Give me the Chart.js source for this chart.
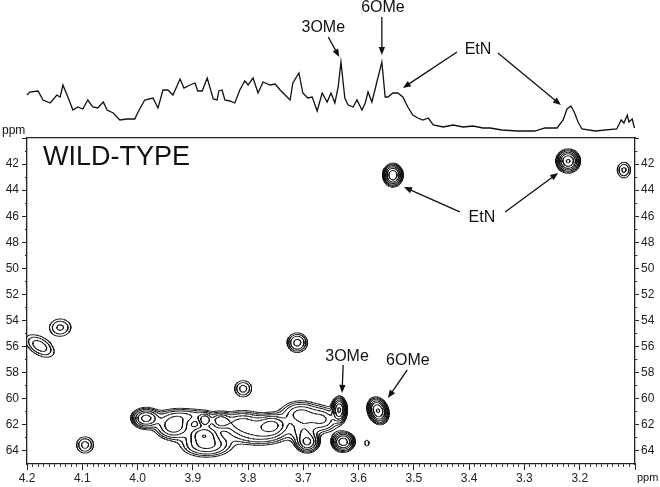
<!DOCTYPE html>
<html>
<head>
<meta charset="utf-8">
<script src="https://cdn.jsdelivr.net/npm/chart.js@4.4.1/dist/chart.umd.min.js"></script>
<style>
  html, body { margin: 0; padding: 0; background: #fff; }
  #wrap { position: relative; width: 660px; height: 487px; }
  #wrap canvas { position: absolute; left: 0; top: 0; }
</style>
</head>
<body>
<div id="wrap">
  <canvas id="hsqc" width="660" height="487" style="width:660px;height:487px"></canvas>
  <canvas id="proton" width="660" height="137" style="width:660px;height:137px"></canvas>
</div>
<script>
// 1H projection (ppm, intensity)
const traceShift = [4.200, 4.195, 4.180, 4.171, 4.158, 4.146, 4.140, 4.135, 4.126, 4.117, 4.108, 4.099, 4.090, 4.081, 4.072, 4.062, 4.055, 4.044, 4.032, 4.019, 4.005, 3.999, 3.987, 3.972, 3.963, 3.954, 3.945, 3.936, 3.923, 3.916, 3.905, 3.896, 3.891, 3.883, 3.874, 3.863, 3.856, 3.853, 3.847, 3.842, 3.833, 3.824, 3.815, 3.806, 3.800, 3.791, 3.782, 3.773, 3.760, 3.751, 3.742, 3.733, 3.724, 3.719, 3.708, 3.701, 3.692, 3.684, 3.675, 3.666, 3.657, 3.650, 3.643, 3.637, 3.632, 3.625, 3.619, 3.610, 3.603, 3.594, 3.588, 3.583, 3.576, 3.567, 3.558, 3.552, 3.547, 3.538, 3.529, 3.520, 3.511, 3.502, 3.493, 3.484, 3.474, 3.465, 3.447, 3.429, 3.411, 3.393, 3.375, 3.362, 3.341, 3.312, 3.281, 3.263, 3.241, 3.230, 3.223, 3.216, 3.210, 3.203, 3.196, 3.172, 3.133, 3.125, 3.120, 3.114, 3.111, 3.105, 3.101];
const traceIntensity = [35, 38, 39, 30, 27, 35, 33, 45, 33, 20, 23, 21, 30, 23, 22, 28, 20, 17, 10, 11, 11, 18, 30, 32, 22, 40, 40, 35, 51, 42, 45, 47, 39, 39, 52, 31, 30, 39, 40, 30, 29, 27, 40, 49, 45, 52, 37, 48, 45, 46, 40, 35, 30, 47, 57, 37, 32, 33, 19, 37, 28, 37, 27, 43, 68, 32, 25, 23, 30, 20, 27, 38, 28, 48, 68, 33, 33, 37, 37, 33, 23, 15, 12, 10, 12, 5, 3, 5, 3, 4, 2, 2, 0, -1, -1, 2, 2, 10, 21, 24, 18, 8, 1, -1, 1, 10, 7, 15, 8, 11, 2];

// 2D cross peaks: 1H shift, 13C shift, widths (ppm), height, tilt
const peakH      = [3.538, 3.221, 3.120, 4.140, 4.177, 4.095, 3.711, 3.809, 3.635, 3.565, 3.628, 3.585,
                    3.985, 3.935, 3.878, 3.850, 3.880, 3.875, 3.810, 3.757, 3.693, 3.705, 3.665, 3.910, 3.780, 3.700];
const peakC      = [42.85, 41.77, 42.46, 54.54, 55.95, 63.54, 55.70, 59.23, 60.85, 60.92, 63.30, 63.40,
                    61.50, 62.10, 61.65, 61.70, 62.70, 63.55, 61.85, 62.00, 63.35, 61.20, 61.60, 61.30, 62.70, 62.50];
const peakWidthH = [0.0085, 0.0100, 0.0090, 0.0145, 0.0180, 0.0110, 0.0110, 0.0110, 0.0065, 0.0090, 0.0102, 0.0050,
                    0.0130, 0.0180, 0.0070, 0.0100, 0.0150, 0.0250, 0.0220, 0.0160, 0.0110, 0.0200, 0.0160, 0.0300, 0.0300, 0.0150];
const peakWidthC = [0.42, 0.42, 0.45, 0.50, 0.60, 0.45, 0.45, 0.45, 0.48, 0.48, 0.38, 0.30,
                    0.40, 0.55, 0.30, 0.35, 0.40, 0.50, 0.50, 0.45, 0.40, 0.55, 0.55, 0.35, 0.50, 0.50];
const peakHeight = [0.55, 0.60, 0.12, 0.12, 0.14, 0.13, 0.20, 0.13, 0.60, 0.60, 0.50, 0.065,
                    0.45, 0.35, 0.30, 0.30, 0.30, 0.28, 0.30, 0.40, 0.40, 0.30, 0.25, 0.15, 0.22, 0.20];
const peakTilt   = [0, 0, 0, 0, -0.5, 0, 0, 0, 0, -0.2, 0, 0,
                    0, 0, 0, 0, 0, 0, 0, 0, 0, 0, 0, 0, 0, 0];

const contourLevels = [0.05, 0.075, 0.11, 0.17, 0.25, 0.38, 0.57, 0.85];

const xTickLabels = ['4.2', '4.1', '4.0', '3.9', '3.8', '3.7', '3.6', '3.5', '3.4', '3.3', '3.2'];
const yTickLabels = ['42', '44', '46', '48', '50', '52', '54', '56', '58', '60', '62', '64'];

const X_MIN = 3.1, X_MAX = 4.2, Y_MIN = 40, Y_MAX = 65;
const INK = '#111';
Chart.defaults.font.family = "'Liberation Sans', Arial, sans-serif";
Chart.defaults.font.size = 12;
Chart.defaults.color = '#222';

// tick positions
const xTickValues = [];
for (let k = 0; k <= 110; k++) xTickValues.push(Math.round((X_MIN + k * 0.01) * 100) / 100);
const yTickValues = [];
for (let v = Y_MIN; v < Y_MAX; v++) yTickValues.push(v);
const isMajorX = v => Math.abs(v * 10 - Math.round(v * 10)) < 1e-6;
const labelX = v => { const l = xTickLabels.find(t => Math.abs(parseFloat(t) - v) < 1e-6); return l || ''; };
const labelY = v => { const l = yTickLabels.find(t => parseFloat(t) === v); return l || ''; };

// intensity field from the cross peaks, then contour it
function buildField() {
  const nx = 551, ny = 313;
  const dx = (X_MAX - X_MIN) / (nx - 1), dy = (Y_MAX - Y_MIN) / (ny - 1);
  const f = new Float64Array(nx * ny);
  for (let p = 0; p < peakH.length; p++) {
    const sx = peakWidthH[p], sy = peakWidthC[p], r = peakTilt[p], a = peakHeight[p];
    const k = 1 / (2 * (1 - r * r));
    const i0 = Math.max(0, Math.floor((peakH[p] - 6 * sx - X_MIN) / dx));
    const i1 = Math.min(nx - 1, Math.ceil((peakH[p] + 6 * sx - X_MIN) / dx));
    const j0 = Math.max(0, Math.floor((peakC[p] - 6 * sy - Y_MIN) / dy));
    const j1 = Math.min(ny - 1, Math.ceil((peakC[p] + 6 * sy - Y_MIN) / dy));
    for (let j = j0; j <= j1; j++) {
      const v = (Y_MIN + j * dy - peakC[p]) / sy;
      for (let i = i0; i <= i1; i++) {
        const u = (X_MIN + i * dx - peakH[p]) / sx;
        f[j * nx + i] += a * Math.exp(-(u * u - 2 * r * u * v + v * v) * k);
      }
    }
  }
  return { f, nx, ny, dx, dy };
}

function contourPoints(g, level, out) {
  const { f, nx, ny, dx, dy } = g;
  let last = null;
  const same = (p, q) => Math.abs(p.x - q.x) < 1e-9 && Math.abs(p.y - q.y) < 1e-9;
  const emit = (p, q) => {
    if (last && same(last, p)) { out.push(q); last = q; return; }
    if (last && same(last, q)) { out.push(p); last = p; return; }
    if (out.length) out.push({ x: out[out.length - 1].x, y: null });
    out.push(p, q);
    last = q;
  };
  for (let j = 0; j < ny - 1; j++) {
    last = null;
    for (let i = 0; i < nx - 1; i++) {
      const a = f[j * nx + i], b = f[j * nx + i + 1], c = f[(j + 1) * nx + i + 1], d = f[(j + 1) * nx + i];
      let idx = 0;
      if (a > level) idx |= 1;
      if (b > level) idx |= 2;
      if (c > level) idx |= 4;
      if (d > level) idx |= 8;
      if (idx === 0 || idx === 15) continue;
      const xl = X_MIN + i * dx, yt = Y_MIN + j * dy;
      const eB = () => ({ x: xl + (level - a) / (b - a) * dx, y: yt });
      const eR = () => ({ x: xl + dx, y: yt + (level - b) / (c - b) * dy });
      const eT = () => ({ x: xl + (level - d) / (c - d) * dx, y: yt + dy });
      const eL = () => ({ x: xl, y: yt + (level - a) / (d - a) * dy });
      const mid = (a + b + c + d) / 4 > level;
      switch (idx) {
        case 1: case 14: emit(eL(), eB()); break;
        case 2: case 13: emit(eB(), eR()); break;
        case 3: case 12: emit(eL(), eR()); break;
        case 4: case 11: emit(eR(), eT()); break;
        case 6: case 9: emit(eB(), eT()); break;
        case 7: case 8: emit(eL(), eT()); break;
        case 5:
          if (mid) { emit(eB(), eR()); emit(eL(), eT()); } else { emit(eL(), eB()); emit(eR(), eT()); }
          break;
        case 10:
          if (mid) { emit(eL(), eB()); emit(eR(), eT()); } else { emit(eB(), eR()); emit(eL(), eT()); }
          break;
      }
    }
  }
}

const field = buildField();
const contourData = [];
contourLevels.forEach(l => contourPoints(field, l, contourData));

function callouts(labels, arrows) {
  return {
    id: 'callouts',
    afterDatasetsDraw(chart) {
      const { ctx } = chart;
      const sx = chart.scales.x, sy = chart.scales.y;
      ctx.save();
      ctx.fillStyle = INK;
      ctx.strokeStyle = INK;
      ctx.lineWidth = 1.3;
      labels.forEach(l => {
        ctx.font = l.font;
        ctx.textAlign = l.align || 'center';
        ctx.textBaseline = 'middle';
        const px = l.px != null ? l.px : sx.getPixelForValue(l.at[0]);
        const py = l.py != null ? l.py : sy.getPixelForValue(l.at[1]);
        ctx.fillText(l.text, px, py);
      });
      arrows.forEach(a => {
        const x1 = sx.getPixelForValue(a[0][0]), y1 = sy.getPixelForValue(a[0][1]);
        const x2 = sx.getPixelForValue(a[1][0]), y2 = sy.getPixelForValue(a[1][1]);
        const ang = Math.atan2(y2 - y1, x2 - x1), c = Math.cos(ang), s = Math.sin(ang);
        const head = 8, w = 3.2;
        ctx.beginPath();
        ctx.moveTo(x1, y1);
        ctx.lineTo(x2 - c * head * 0.7, y2 - s * head * 0.7);
        ctx.stroke();
        ctx.beginPath();
        ctx.moveTo(x2, y2);
        ctx.lineTo(x2 - head * c + w * s, y2 - head * s - w * c);
        ctx.lineTo(x2 - head * c - w * s, y2 - head * s + w * c);
        ctx.closePath();
        ctx.fill();
      });
      ctx.restore();
    }
  };
}

const labelFont = "16px 'Liberation Sans', Arial, sans-serif";

// top: 1H trace
new Chart(document.getElementById('proton'), {
  type: 'line',
  data: {
    datasets: [{
      data: traceShift.map((x, i) => ({ x, y: traceIntensity[i] })),
      borderColor: INK,
      borderWidth: 1.3,
      pointRadius: 0,
      tension: 0,
      clip: false
    }]
  },
  options: {
    responsive: false,
    animation: false,
    layout: { padding: { left: 27, right: 25, top: 0, bottom: 7 } },
    scales: {
      x: { type: 'linear', reverse: true, min: X_MIN, max: X_MAX, display: false },
      y: { min: 0, max: 130, display: false }
    },
    plugins: { legend: { display: false }, tooltip: { enabled: false } }
  },
  plugins: [callouts(
    [
      { text: '3OMe', at: [3.664, 102], font: labelFont },
      { text: '6OMe', at: [3.556, 122], font: labelFont },
      { text: 'EtN', at: [3.384, 80], font: labelFont }
    ],
    [
      [[3.655, 93], [3.635, 73]],
      [[3.558, 113], [3.558, 75]],
      [[3.422, 78], [3.520, 42]],
      [[3.348, 77], [3.234, 25]]
    ]
  )]
});

// bottom: 2D contour map
const tickDash = (minorDash) => c => (c.tick && !(c.tick.value % 2 === 0)) ? minorDash : [];
new Chart(document.getElementById('hsqc'), {
  type: 'line',
  data: {
    datasets: [{
      data: contourData,
      borderColor: INK,
      borderWidth: 1,
      pointRadius: 0,
      tension: 0,
      spanGaps: false,
      borderCapStyle: 'round',
      borderJoinStyle: 'round'
    }]
  },
  options: {
    responsive: false,
    animation: false,
    layout: { padding: { left: 0, right: 0, top: 138, bottom: 0 } },
    scales: {
      x: {
        type: 'linear', reverse: true, min: X_MIN, max: X_MAX, position: 'bottom',
        afterBuildTicks: s => { s.ticks = xTickValues.map(v => ({ value: v })); },
        afterFit: s => { s.height = 23; },
        ticks: { autoSkip: false, maxRotation: 0, padding: 1, callback: v => labelX(v) },
        grid: {
          drawOnChartArea: false, tickLength: 6, tickColor: '#222', tickWidth: 1,
          tickBorderDash: c => (c.tick && !isMajorX(c.tick.value)) ? [2.5, 20] : []
        },
        border: { color: '#222', width: 1.3 }
      },
      xTop: {
        type: 'linear', reverse: true, min: X_MIN, max: X_MAX, position: 'top',
        afterFit: s => { s.height = 0; },
        ticks: { display: false },
        grid: { drawOnChartArea: false, drawTicks: false },
        border: { color: '#222', width: 1.3 }
      },
      y: {
        type: 'linear', reverse: true, min: Y_MIN, max: Y_MAX, position: 'left',
        afterBuildTicks: s => { s.ticks = yTickValues.map(v => ({ value: v })); },
        afterFit: s => { s.width = 27; },
        ticks: { autoSkip: false, padding: 3, callback: v => labelY(v) },
        grid: {
          drawOnChartArea: false, tickLength: 5, tickColor: '#222', tickWidth: 1,
          tickBorderDash: tickDash([0, 3, 2, 10])
        },
        border: { color: '#222', width: 1.3 }
      },
      y2: {
        type: 'linear', reverse: true, min: Y_MIN, max: Y_MAX, position: 'right',
        afterBuildTicks: s => { s.ticks = yTickValues.map(v => ({ value: v })); },
        afterFit: s => { s.width = 25; },
        ticks: { autoSkip: false, padding: 2, callback: v => labelY(v) },
        grid: {
          drawOnChartArea: false, tickLength: 4, tickColor: '#222', tickWidth: 1,
          tickBorderDash: tickDash([2, 10])
        },
        border: { color: '#222', width: 1.3 }
      }
    },
    plugins: { legend: { display: false }, tooltip: { enabled: false } }
  },
  plugins: [callouts(
    [
      { text: 'WILD-TYPE', at: [4.171, 41.53], font: "27px 'Liberation Sans', Arial, sans-serif", align: 'left' },
      { text: 'EtN', at: [3.377, 46.13], font: labelFont },
      { text: '3OMe', at: [3.621, 56.79], font: labelFont },
      { text: '6OMe', at: [3.511, 57.1], font: labelFont },
      { text: 'ppm', px: 2, py: 131, font: "12px 'Liberation Sans', Arial, sans-serif", align: 'left' },
      { text: 'ppm', px: 637, py: 478, font: "11px 'Liberation Sans', Arial, sans-serif", align: 'left' }
    ],
    [
      [[3.417, 45.67], [3.518, 43.76]],
      [[3.335, 45.67], [3.239, 42.68]],
      [[3.628, 57.41], [3.630, 59.55]],
      [[3.512, 57.79], [3.547, 59.94]]
    ]
  )]
});
</script>
</body>
</html>
